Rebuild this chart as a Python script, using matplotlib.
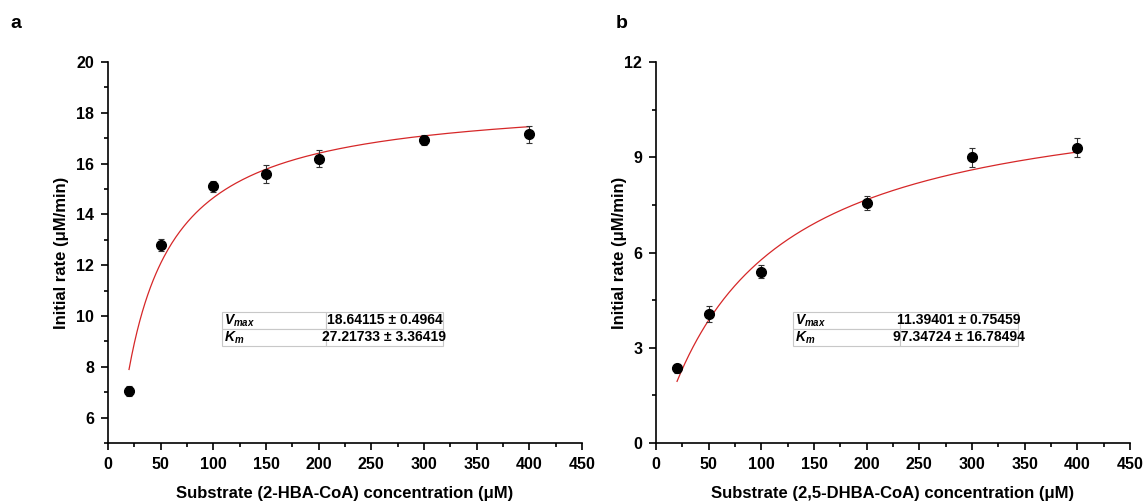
import numpy as np
import matplotlib.pyplot as plt
from matplotlib.ticker import MultipleLocator

plt.rcParams['font.family'] = ['Liberation Sans', 'DejaVu Sans']
plt.rcParams['font.weight'] = 'bold'
plt.rcParams['mathtext.fontset'] = 'custom'
plt.rcParams['mathtext.it'] = 'Liberation Sans:italic:bold'
plt.rcParams['mathtext.rm'] = 'Liberation Sans:bold'

# substrate concentrations (uM)
conc_a = [20, 50, 100, 150, 200, 300, 400]
rate_a = [7.05, 12.8, 15.1, 15.6, 16.2, 16.93, 17.15]
err_a = [0.2, 0.25, 0.2, 0.35, 0.35, 0.2, 0.33]
vmax_a, km_a = 18.64115, 27.21733
vmax_a_err, km_a_err = 0.4964, 3.36419

conc_b = [20, 50, 100, 200, 300, 400]
rate_b = [2.35, 4.05, 5.4, 7.55, 9.0, 9.3]
err_b = [0.15, 0.25, 0.2, 0.22, 0.3, 0.3]
vmax_b, km_b = 11.39401, 97.34724
vmax_b_err, km_b_err = 0.75459, 16.78494


def mm(s, vmax, km):
    return vmax * s / (km + s)


fig = plt.figure(figsize=(11.46, 5.04), dpi=100)
ax1 = fig.add_axes([0.0942, 0.121, 0.4136, 0.756])
ax2 = fig.add_axes([0.5724, 0.121, 0.4136, 0.756])

panels = [
    (ax1, conc_a, rate_a, err_a, vmax_a, km_a, vmax_a_err, km_a_err,
     'Substrate (2-HBA-CoA) concentration (μM)', (5, 20), 2,
     [0.24, 0.255, 0.466, 0.089], -0.082),
    (ax2, conc_b, rate_b, err_b, vmax_b, km_b, vmax_b_err, km_b_err,
     'Substrate (2,5-DHBA-CoA) concentration (μM)', (0, 12), 3,
     [0.289, 0.255, 0.475, 0.089], -0.061),
]

for ax, x, y, e, vm, km, vme, kme, xlabel, ylim, ystep, tbox, ylab_x in panels:
    s = np.linspace(min(x), max(x), 300)
    ax.plot(s, mm(s, vm, km), color='#d62728', lw=0.9, zorder=2)
    ax.errorbar(x, y, yerr=e, fmt='o', color='black', ms=7, ecolor='#333333',
                elinewidth=0.8, capsize=2, capthick=0.8, zorder=3)

    ax.set_xlim(0, 450)
    ax.set_ylim(*ylim)
    ax.xaxis.set_major_locator(MultipleLocator(50))
    ax.xaxis.set_minor_locator(MultipleLocator(25))
    ax.yaxis.set_major_locator(MultipleLocator(ystep))
    ax.yaxis.set_minor_locator(MultipleLocator(ystep / 2))
    if ylim[0] == 5:
        ax.set_yticks(np.arange(6, 21, 2))
    ax.tick_params(which='major', length=5, width=1.2, labelsize=11.5, pad=5)
    ax.tick_params(which='minor', length=3, width=1.2)
    for side in ['top', 'right']:
        ax.spines[side].set_visible(False)
    for side in ['left', 'bottom']:
        ax.spines[side].set_linewidth(1.2)
    for lab in ax.get_xticklabels() + ax.get_yticklabels():
        lab.set_fontweight('bold')

    ax.set_xlabel(xlabel, fontsize=12, fontweight='bold')
    ax.set_ylabel('Initial rate (μM/min)', fontsize=12, fontweight='bold')
    ax.xaxis.set_label_coords(0.5, -0.113)
    ax.yaxis.set_label_coords(ylab_x, 0.5)

    cells = [[r'$V_{max}$', f'{vm} ± {vme}'], [r'$K_m$', f'{km} ± {kme}']]
    tbl = ax.table(cellText=cells, bbox=tbox, cellLoc='center')
    tbl.auto_set_font_size(False)
    for (r, c), cell in tbl.get_celld().items():
        cell.set_edgecolor('#c8c8c8')
        cell.set_linewidth(0.8)
        cell.get_text().set_fontsize(10)
        cell.get_text().set_fontweight('bold')
        if c == 0:
            cell.get_text().set_ha('left')
            cell.PAD = 0.02
            cell.set_width(0.45)

fig.text(10 / 1146, 1 - 28 / 504, 'a', fontsize=14, fontweight='bold', va='baseline')
fig.text(616 / 1146, 1 - 28 / 504, 'b', fontsize=14, fontweight='bold', va='baseline')

fig.savefig('out.png', dpi=100)
